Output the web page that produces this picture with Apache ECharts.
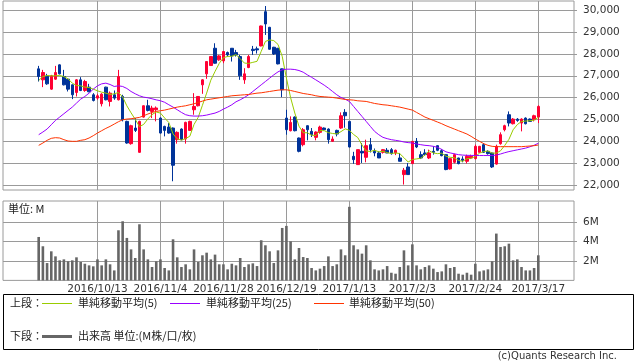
<!DOCTYPE html>
<html><head><meta charset="utf-8">
<script src="https://cdn.jsdelivr.net/npm/echarts@6/dist/echarts.min.js"></script>
<style>html,body{margin:0;padding:0;background:#fff;}#c{width:638px;height:362px;}</style>
</head><body><div id="c"></div>
<script>
const dates = ['2016/9/21','2016/9/23','2016/9/26','2016/9/27','2016/9/28','2016/9/29','2016/9/30','2016/10/3','2016/10/4','2016/10/5','2016/10/6','2016/10/7','2016/10/11','2016/10/12','2016/10/13','2016/10/14','2016/10/17','2016/10/18','2016/10/19','2016/10/20','2016/10/21','2016/10/24','2016/10/25','2016/10/26','2016/10/27','2016/10/28','2016/10/31','2016/11/1','2016/11/2','2016/11/4','2016/11/7','2016/11/8','2016/11/9','2016/11/10','2016/11/11','2016/11/14','2016/11/15','2016/11/16','2016/11/17','2016/11/18','2016/11/21','2016/11/22','2016/11/24','2016/11/25','2016/11/28','2016/11/29','2016/11/30','2016/12/1','2016/12/2','2016/12/5','2016/12/6','2016/12/7','2016/12/8','2016/12/9','2016/12/12','2016/12/13','2016/12/14','2016/12/15','2016/12/16','2016/12/19','2016/12/20','2016/12/21','2016/12/22','2016/12/26','2016/12/27','2016/12/28','2016/12/29','2016/12/30','2017/1/4','2017/1/5','2017/1/6','2017/1/10','2017/1/11','2017/1/12','2017/1/13','2017/1/16','2017/1/17','2017/1/18','2017/1/19','2017/1/20','2017/1/23','2017/1/24','2017/1/25','2017/1/26','2017/1/27','2017/1/30','2017/1/31','2017/2/1','2017/2/2','2017/2/3','2017/2/6','2017/2/7','2017/2/8','2017/2/9','2017/2/10','2017/2/13','2017/2/14','2017/2/15','2017/2/16','2017/2/17','2017/2/20','2017/2/21','2017/2/22','2017/2/23','2017/2/24','2017/2/27','2017/2/28','2017/3/1','2017/3/2','2017/3/3','2017/3/6','2017/3/7','2017/3/8','2017/3/9','2017/3/10','2017/3/13','2017/3/14','2017/3/15','2017/3/16','2017/3/17'];
const tickLabels = ['2016/10/13','2016/11/4','2016/11/28','2016/12/19','2017/1/13','2017/2/3','2017/2/24','2017/3/17'];
const priceTicks = [22000,23000,24000,25000,26000,27000,28000,29000,30000];
const volumeTicks = [2,4,6];

const opens = [27315,26814,26981,26390,26845,27497,26966,26845,26587,26238,
26814,26329,26481,26132,25980,25722,26481,25828,26132,25904,
26056,24918,23902,24615,23507,25115,25631,25373,25450,25070,
24690,24660,24615,24084,24569,24114,24508,25449,25631,26587,
27087,27467,28255,27725,27679,28058,28255,28058,27876,26814,
27376,28210,28230,28362,29924,29211,28301,28255,27315,25070,
24493,25115,24160,23856,24721,24463,24190,24418,24615,24569,
24008,24508,24615,25330,24918,23325,22946,23553,23280,23856,
23553,23477,23507,23600,23629,23477,23249,22491,22840,22991,
24008,23401,23477,23249,23553,23810,23583,23401,22750,23052,
23249,23204,23098,23249,23220,23507,23856,23553,23477,22970,
23902,24539,25222,24812,25020,24842,25070,25024,24994,25115];
const closes = [26966,27148,26632,26996,27148,27087,26587,26390,26132,26814,
26329,26738,26268,25874,26086,26162,25904,26207,25980,26966,
24994,23932,24721,24508,24918,25631,25419,25525,25530,24387,
24508,24387,22916,24418,24084,24873,24918,25601,26056,26814,
27649,27876,27573,27907,28104,27952,27907,27952,26996,27087,
27876,28150,28180,29272,29363,28210,27997,27542,26359,24539,
24873,24493,23553,24539,24539,24311,24433,24660,24539,24084,
24114,24342,25176,25176,23750,23173,23629,23477,23810,23629,
23477,23249,23629,23477,23447,23600,23098,22688,22491,24008,
23750,23249,23401,23477,23507,23600,23355,22720,23219,23401,
22991,23143,23325,23325,23780,23780,23507,23447,22840,23780,
24311,24721,24842,25024,24960,25024,24812,24918,25176,25601];
const lows = [26738,26481,26587,26359,26814,27060,26560,26283,25934,26056,
26300,26268,26250,25828,25904,25601,25880,25601,25904,25874,
24918,23900,23856,24433,23480,25090,25373,25070,24920,24360,
24235,24357,22187,23902,24060,23902,24480,25222,25601,26177,
26860,27450,27550,27680,27573,27876,27649,27876,26814,26632,
27345,27952,28013,28340,28862,28190,27952,27520,26025,24311,
24463,24463,23507,23780,24054,24205,24054,24357,24500,23902,
23978,24235,24570,24630,23730,22980,22946,23022,23052,23500,
23325,23249,23450,23470,23400,23380,23098,22036,22491,22991,
23700,23200,23350,23200,23401,23560,23325,22690,22720,23000,
22960,23052,23000,23200,23180,23480,23477,23400,22794,22946,
23856,24463,24690,24780,24900,24463,24780,24900,24918,24842];
const highs = [27451,27269,27087,27040,27451,27520,27269,26890,26600,26845,
26936,26814,26632,26207,26177,26207,26500,26283,26329,27269,
26132,24950,24766,25070,24950,25650,25904,25631,25600,25100,
24721,24842,24640,24463,24600,24903,24950,26207,26070,26845,
27649,27900,28483,27952,28120,28104,28260,28180,27952,27345,
27952,28362,28331,29290,30182,29230,28320,28270,27330,25449,
25146,25146,24180,24615,24740,24615,24463,24721,24640,24600,
24235,24539,25330,25480,24918,23530,23629,23932,24084,24160,
23680,23553,23660,23700,23700,23630,23477,22794,23022,24008,
24160,23553,23650,23629,23780,23830,23650,23401,23250,23450,
23260,23325,23400,23400,23860,23800,23930,23600,23500,23856,
24418,24766,25373,25070,25070,25060,25100,25050,25222,25650];
const volumes = [4.48,3.52,1.79,3.0,2.48,2.07,2.17,1.97,2.07,2.38,
1.9,1.72,1.55,1.45,2.17,1.55,2.17,1.66,1.03,5.17,
6.1,4.38,3.2,2.31,5.79,3.2,2.17,1.38,1.97,2.17,
1.28,1.03,4.24,2.38,1.38,1.66,1.14,3.2,1.9,2.59,
2.86,2.17,2.66,1.66,1.66,1.14,1.72,1.55,2.31,1.38,
1.66,1.76,1.48,4.14,3.62,3.0,1.79,3.1,5.41,5.62,
4.03,2.17,3.34,2.41,2.31,1.28,1.03,1.21,1.48,2.48,
1.48,1.66,3.2,2.59,7.59,3.62,3.2,2.76,3.62,2.07,
1.14,1.03,1.14,1.48,0.79,0.69,1.38,3.1,1.55,3.72,
1.55,1.14,1.38,1.55,1.21,0.86,0.93,1.66,1.28,1.38,
0.69,0.59,0.79,0.59,1.72,0.93,1.03,1.14,1.97,4.83,
3.45,3.52,3.79,2.07,2.17,1.38,1.03,1.03,1.28,2.59];
const ma5 = [26784,26966,27012,26996,27000,27012,26966,26860,26663,26556,
26541,26481,26465,26390,26314,26253,26207,26147,26177,26238,
26030,25630,25310,25010,24680,24780,25030,25230,25345,25298,
25074,24867,24346,24123,24063,24136,24242,24779,25106,25652,
26208,26799,27194,27564,27822,27882,27889,27964,27782,27579,
27564,27612,27658,28113,28568,28635,28604,28430,27890,26900,
26000,25300,24700,24400,24399,24287,24275,24496,24496,24405,
24366,24348,24451,24578,24512,24323,24181,23841,23568,23544,
23604,23528,23559,23492,23456,23480,23450,23262,23065,23177,
23207,23237,23380,23577,23477,23447,23468,23332,23280,23259,
23137,23095,23216,23237,23313,23471,23543,23568,23471,23471,
23577,23820,24099,24536,24772,24914,24932,24948,24978,25106];
const ma25 = [24311,24433,24569,24766,24964,25115,25267,25419,25570,25752,
25934,26056,26207,26390,26541,26632,26663,26602,26511,26541,
26511,26420,26283,26177,26086,26025,25995,25950,25900,25860,
25790,25677,25570,25449,25328,25222,25176,25161,25161,25176,
25206,25252,25297,25373,25479,25570,25677,25813,25904,26010,
26132,26283,26435,26587,26738,26890,27042,27178,27269,27300,
27300,27285,27239,27163,27040,26930,26814,26693,26572,26435,
26283,26132,26010,25934,25828,25601,25373,25146,24918,24690,
24463,24311,24190,24130,24084,24054,24023,23978,23950,23932,
23887,23856,23826,23810,23780,23735,23640,23530,23480,23440,
23400,23380,23370,23365,23365,23360,23360,23360,23360,23380,
23430,23490,23540,23580,23620,23660,23700,23760,23830,23920];
const ma50 = [23826,23932,24054,24145,24175,24160,24084,24023,24008,24008,
24054,24084,24160,24266,24387,24493,24599,24690,24797,24903,
24994,25024,25040,25070,25100,25176,25252,25328,25373,25404,
25434,25479,25525,25570,25601,25631,25677,25722,25783,25843,
25904,25934,25965,25995,26025,26056,26086,26101,26117,26132,
26147,26177,26207,26223,26253,26283,26314,26344,26359,26359,
26329,26283,26238,26192,26162,26132,26086,26056,26041,26025,
26010,25980,25950,25919,25904,25889,25858,25843,25828,25783,
25737,25707,25677,25661,25631,25601,25570,25525,25479,25434,
25328,25222,25115,25040,24964,24888,24812,24721,24645,24569,
24493,24418,24342,24235,24114,24008,23902,23826,23780,23765,
23765,23765,23765,23765,23765,23765,23780,23795,23810,23841];

const padBefore = 8, padAfter = 8;
const cats = [];
for (let i = 0; i < padBefore; i++) cats.push('pre' + i);
dates.forEach(d => cats.push(d));
for (let i = 0; i < padAfter; i++) cats.push('post' + i);
const padArr = (arr, empty) => Array(padBefore).fill(empty).concat(arr, Array(padAfter).fill(empty));
const candleData = padArr(dates.map((d, i) => [opens[i], closes[i], lows[i], highs[i]]), ['-','-','-','-']);
const isTick = (idx, val) => tickLabels.indexOf(val) >= 0;

const GRID = '#9a9a9a';
const numFont = 'DejaVu Sans';
const cjk = '"Noto Sans CJK JP", "DejaVu Sans", sans-serif';

const chart = echarts.init(document.getElementById('c'), null, {renderer: 'canvas'});
chart.setOption({
  animation: false,
  backgroundColor: '#ffffff',
  grid: [
    {left: 3, top: 1, width: 571, height: 189, show: true, borderColor: GRID, borderWidth: 1, backgroundColor: 'transparent'},
    {left: 3, top: 201, width: 571, height: 79.4, show: true, borderColor: GRID, borderWidth: 1, backgroundColor: 'transparent'}
  ],
  xAxis: [
    {type: 'category', gridIndex: 0, data: cats, boundaryGap: true,
     axisLine: {show: false}, axisTick: {show: false}, axisLabel: {show: false},
     splitLine: {show: true, interval: isTick, alignWithLabel: true, lineStyle: {color: GRID, width: 1}}},
    {type: 'category', gridIndex: 1, data: cats, boundaryGap: true,
     axisLine: {show: false}, axisTick: {show: false},
     axisLabel: {show: true, interval: isTick, margin: 3, fontSize: 10.5, color: '#333', fontFamily: numFont},
     splitLine: {show: true, interval: isTick, alignWithLabel: true, lineStyle: {color: GRID, width: 1}}}
  ],
  yAxis: [
    {type: 'value', gridIndex: 0, position: 'right', min: 21788, max: 30411,
     axisLine: {show: false},
     axisTick: {show: true, length: 3, customValues: priceTicks, lineStyle: {color: GRID}},
     axisLabel: {customValues: priceTicks, margin: 9, fontSize: 10.5, color: '#333', fontFamily: numFont,
                 formatter: v => Number(v).toLocaleString('en-US')},
     splitLine: {show: true, lineStyle: {color: GRID, width: 1}}},
    {type: 'value', gridIndex: 1, position: 'right', min: 0, max: 8.19,
     axisLine: {show: false},
     axisTick: {show: true, length: 3, customValues: volumeTicks, lineStyle: {color: GRID}},
     axisLabel: {customValues: volumeTicks, margin: 9, fontSize: 10.5, color: '#333', fontFamily: numFont,
                 formatter: v => v + 'M'},
     splitLine: {show: true, lineStyle: {color: GRID, width: 1}}}
  ],
  series: [
    {type: 'candlestick', xAxisIndex: 0, yAxisIndex: 0, data: candleData, barWidth: 3,
     itemStyle: {color: '#ff0033', color0: '#003399', borderColor: '#ff0033', borderColor0: '#003399', borderWidth: 1}, z: 2},
    {type: 'line', xAxisIndex: 0, yAxisIndex: 0, data: padArr(ma5, '-'), symbol: 'none', lineStyle: {color: '#99cc00', width: 1}, z: 3},
    {type: 'line', xAxisIndex: 0, yAxisIndex: 0, data: padArr(ma25, '-'), symbol: 'none', lineStyle: {color: '#9900ff', width: 1}, z: 3},
    {type: 'line', xAxisIndex: 0, yAxisIndex: 0, data: padArr(ma50, '-'), symbol: 'none', lineStyle: {color: '#ff3300', width: 1}, z: 3},
    {type: 'bar', xAxisIndex: 1, yAxisIndex: 1, data: padArr(volumes, '-'), barWidth: 2.6, itemStyle: {color: '#666666'}}
  ],
  graphic: [
    {type: 'text', left: 8, top: 203, style: {text: '単位: M', font: '11px ' + cjk, fill: '#222'}},
    {type: 'rect', shape: {x: 3.5, y: 294.5, width: 630, height: 55}, style: {fill: 'none', stroke: '#000', lineWidth: 1}},
    {type: 'text', x: 10, y: 303, style: {text: '上段：', font: '11px ' + cjk, fill: '#222', textVerticalAlign: 'middle'}},
    {type: 'line', shape: {x1: 42, y1: 303.5, x2: 72, y2: 303.5}, style: {stroke: '#99cc00', lineWidth: 1}},
    {type: 'text', x: 78, y: 303, style: {text: '単純移動平均(5)', font: '11px ' + cjk, fill: '#222', textVerticalAlign: 'middle'}},
    {type: 'line', shape: {x1: 170, y1: 303.5, x2: 200, y2: 303.5}, style: {stroke: '#9900ff', lineWidth: 1}},
    {type: 'text', x: 206, y: 303, style: {text: '単純移動平均(25)', font: '11px ' + cjk, fill: '#222', textVerticalAlign: 'middle'}},
    {type: 'line', shape: {x1: 314, y1: 303.5, x2: 344, y2: 303.5}, style: {stroke: '#ff3300', lineWidth: 1}},
    {type: 'text', x: 349, y: 303, style: {text: '単純移動平均(50)', font: '11px ' + cjk, fill: '#222', textVerticalAlign: 'middle'}},
    {type: 'text', x: 10, y: 336, style: {text: '下段：', font: '11px ' + cjk, fill: '#222', textVerticalAlign: 'middle'}},
    {type: 'line', shape: {x1: 42, y1: 336.5, x2: 72, y2: 336.5}, style: {stroke: '#666666', lineWidth: 3}},
    {type: 'text', x: 78, y: 336, style: {text: '出来高 単位:(M株/口/枚)', font: '11px ' + cjk, fill: '#222', textVerticalAlign: 'middle'}},
    {type: 'text', x: 617, y: 356, style: {text: '(c)Quants Research Inc.', font: '10px ' + numFont, fill: '#333', textAlign: 'right', textVerticalAlign: 'middle'}}
  ]
});
</script></body></html>
